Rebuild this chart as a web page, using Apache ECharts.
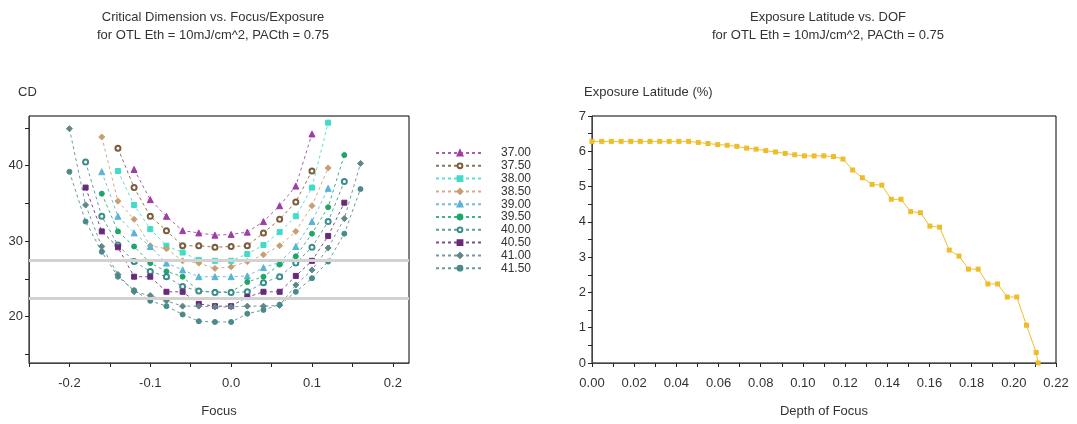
<!DOCTYPE html>
<html>
<head>
<meta charset="utf-8">
<script src="https://cdn.jsdelivr.net/npm/echarts@6/dist/echarts.min.js"></script>
<style>
  html, body { margin: 0; padding: 0; background: #fff; }
  #chart { width: 1077px; height: 424px; }
</style>
</head>
<body>
<div id="chart"></div>
<script>
// Focus settings (µm) at which CD was simulated
const focus = [-0.20, -0.18, -0.16, -0.14, -0.12, -0.10, -0.08, -0.06, -0.04, -0.02,
               0.00, 0.02, 0.04, 0.06, 0.08, 0.10, 0.12, 0.14, 0.16];

// Exposure doses (mJ/cm^2), one Bossung curve each
const exposures = ['37.00', '37.50', '38.00', '38.50', '39.00', '39.50', '40.00', '40.50', '41.00', '41.50'];

// CD per focus setting; null where the feature is outside the printable range
const cd3700 = [null, null, null, null, 39.5, 35.5, 33.3, 31.4, 31.1, 30.8, 30.9, 31.2, 32.6, 34.7, 37.3, 44.2, null, null, null];
const cd3750 = [null, null, null, 42.3, 37.1, 33.3, 31.4, 29.4, 29.4, 29.2, 29.3, 29.4, 31.1, 32.9, 35.2, 39.3, null, null, null];
const cd3800 = [null, null, null, 39.3, 34.8, 31.6, 29.4, 28.5, 27.5, 27.4, 27.4, 28.3, 29.5, 31.2, 33.3, 37.1, 45.7, null, null];
const cd3850 = [null, null, 43.8, 35.3, 32.9, 29.4, 29.0, 27.4, 27.1, 26.4, 26.6, 27.3, 28.2, 29.4, 31.3, 34.7, 39.7, null, null];
const cd3900 = [null, null, 39.2, 33.3, 31.1, 29.3, 27.1, 26.2, 25.3, 25.3, 25.3, 25.4, 26.5, 27.2, 29.3, 32.6, 37.0, null, null];
const cd3950 = [null, null, 36.3, 31.3, 29.3, 27.1, 26.0, 25.3, 23.4, 23.3, 23.3, 24.6, 25.3, 26.9, 28.0, 31.0, 34.5, 41.4, null];
const cd4000 = [null, 40.5, 33.3, 29.5, 27.3, 26.0, 25.3, 24.0, 23.4, 23.2, 23.2, 23.3, 24.5, 25.3, 27.1, 29.2, 32.6, 37.9, null];
const cd4050 = [null, 37.1, 31.3, 29.2, 25.3, 25.3, 23.3, 23.3, 21.7, 21.4, 21.4, 22.6, 23.3, 23.3, 25.4, 27.4, 30.7, 35.1, null];
const cd4100 = [44.9, 34.8, 29.3, 25.6, 23.3, 22.8, 22.1, 21.4, 21.4, 21.3, 21.3, 21.4, 21.4, 21.5, 24.2, 26.2, 29.1, 33.0, 40.3];
const cd4150 = [39.2, 32.6, 28.6, 25.3, 23.5, 22.1, 21.4, 20.3, 19.4, 19.3, 19.3, 20.4, 20.9, 21.6, 23.3, 25.1, 27.3, 31.0, 36.9];
const cdByExposure = [cd3700, cd3750, cd3800, cd3850, cd3900, cd3950, cd4000, cd4050, cd4100, cd4150];

// CD specification limits (target 25 +/- 10%)
const specLimits = [27.5, 22.5];

// Exposure latitude vs depth of focus
const dof = [0.0000, 0.0046, 0.0092, 0.0138, 0.0184, 0.0229, 0.0275, 0.0321, 0.0366, 0.0412,
             0.0458, 0.0504, 0.0550, 0.0596, 0.0641, 0.0687, 0.0733, 0.0778, 0.0824, 0.0870,
             0.0916, 0.0961, 0.1007, 0.1053, 0.1099, 0.1145, 0.1190, 0.1236, 0.1282, 0.1328,
             0.1374, 0.1419, 0.1465, 0.1511, 0.1557, 0.1602, 0.1648, 0.1694, 0.1740, 0.1785,
             0.1831, 0.1877, 0.1923, 0.1969, 0.2014, 0.2060, 0.2106, 0.2115];
const expLatitude = [6.28, 6.28, 6.28, 6.28, 6.28, 6.28, 6.28, 6.28, 6.28, 6.28,
                     6.28, 6.25, 6.22, 6.19, 6.17, 6.14, 6.09, 6.06, 6.02, 5.98,
                     5.94, 5.90, 5.87, 5.87, 5.87, 5.85, 5.78, 5.47, 5.25, 5.06,
                     5.04, 4.64, 4.64, 4.29, 4.26, 3.88, 3.85, 3.20, 3.03, 2.66,
                     2.66, 2.24, 2.24, 1.87, 1.87, 1.07, 0.30, 0.00];

// Axis ticks and labels
const focusTicks = [-0.25, -0.2, -0.15, -0.1, -0.05, 0, 0.05, 0.1, 0.15, 0.2];
const focusLabels = [-0.2, -0.1, 0, 0.1, 0.2];
const cdTicks = [15, 20, 25, 30, 35, 40, 45];
const cdLabels = [20, 30, 40];
const dofTicks = [0, 0.01, 0.02, 0.03, 0.04, 0.05, 0.06, 0.07, 0.08, 0.09, 0.10, 0.11,
                  0.12, 0.13, 0.14, 0.15, 0.16, 0.17, 0.18, 0.19, 0.20, 0.21, 0.22];
const dofLabels = [0, 0.02, 0.04, 0.06, 0.08, 0.10, 0.12, 0.14, 0.16, 0.18, 0.20, 0.22];
const elTicks = [0, 0.5, 1, 1.5, 2, 2.5, 3, 3.5, 4, 4.5, 5, 5.5, 6, 6.5, 7];
const elLabels = [0, 1, 2, 3, 4, 5, 6, 7];

// Marker style of each exposure curve
const curveStyles = [
  { color: '#a03ca6', symbol: 'triangle', size: 6 },
  { color: '#7c5c3c', symbol: 'emptyCircle', size: 5 },
  { color: '#3fdcc8', symbol: 'rect', size: 5 },
  { color: '#c4a072', symbol: 'diamond', size: 6 },
  { color: '#5ab4d6', symbol: 'triangle', size: 6 },
  { color: '#1ea66a', symbol: 'circle', size: 5 },
  { color: '#3d8d8d', symbol: 'emptyCircle', size: 5 },
  { color: '#6a2a7a', symbol: 'rect', size: 5 },
  { color: '#5f8787', symbol: 'diamond', size: 6 },
  { color: '#4a8a8a', symbol: 'circle', size: 5 }
];

const FONT = "'Liberation Sans', Arial, sans-serif";
const TXT = '#333';

const chart = echarts.init(document.getElementById('chart'), null, { renderer: 'canvas' });

const curveSeries = exposures.map((name, k) => {
  const st = curveStyles[k];
  const pts = [];
  cdByExposure[k].forEach((v, i) => { if (v !== null) pts.push([focus[i], v]); });
  return {
    name: name,
    type: 'line',
    xAxisIndex: 0,
    yAxisIndex: 0,
    data: pts,
    symbol: st.symbol,
    symbolSize: st.size,
    showAllSymbol: true,
    color: st.color,
    itemStyle: { color: st.color, borderColor: st.color, borderWidth: 1 },
    lineStyle: { color: st.color, width: 1, type: [3, 3], opacity: 0.85 },
    emphasis: { disabled: true },
    z: 3
  };
});

const specSeries = {
  name: 'spec',
  type: 'line',
  xAxisIndex: 0,
  yAxisIndex: 0,
  data: [],
  silent: true,
  z: 2,
  markLine: {
    silent: true,
    symbol: 'none',
    label: { show: false },
    lineStyle: { color: '#d2d2d2', width: 3, type: 'solid' },
    emphasis: { disabled: true },
    data: specLimits.map(v => ({ yAxis: v }))
  }
};

const latitudeSeries = {
  name: 'Exposure Latitude',
  type: 'line',
  xAxisIndex: 1,
  yAxisIndex: 1,
  data: dof.map((d, i) => [d, expLatitude[i]]),
  symbol: 'rect',
  symbolSize: 5,
  showAllSymbol: true,
  itemStyle: { color: '#efbd2c' },
  lineStyle: { color: '#efbd2c', width: 1 },
  emphasis: { disabled: true }
};

function axisCommon() {
  return {
    axisLine: { show: true, onZero: false, lineStyle: { color: '#444', width: 1 } },
    axisTick: { show: true, inside: false, length: 4, lineStyle: { color: '#222' } },
    splitLine: { show: false },
    axisLabel: { color: TXT, fontFamily: FONT, fontSize: 13 },
    nameTextStyle: { color: TXT, fontFamily: FONT, fontSize: 13 }
  };
}

function mergeAxis(base, extra) {
  const out = Object.assign({}, base, extra);
  out.axisTick = Object.assign({}, base.axisTick, extra.axisTick || {});
  out.axisLabel = Object.assign({}, base.axisLabel, extra.axisLabel || {});
  return out;
}

const option = {
  animation: false,
  backgroundColor: '#fff',
  textStyle: { fontFamily: FONT },
  title: [
    {
      text: 'Critical Dimension vs. Focus/Exposure',
      subtext: 'for OTL Eth = 10mJ/cm^2, PACth = 0.75',
      left: 208, top: 6, textAlign: 'center', itemGap: 5,
      textStyle: { fontFamily: FONT, fontSize: 13, fontWeight: 'normal', color: TXT },
      subtextStyle: { fontFamily: FONT, fontSize: 13, color: TXT }
    },
    {
      text: 'Exposure Latitude vs. DOF',
      subtext: 'for OTL Eth = 10mJ/cm^2, PACth = 0.75',
      left: 823, top: 6, textAlign: 'center', itemGap: 5,
      textStyle: { fontFamily: FONT, fontSize: 13, fontWeight: 'normal', color: TXT },
      subtextStyle: { fontFamily: FONT, fontSize: 13, color: TXT }
    },
    {
      text: 'CD', left: 13, top: 81,
      textStyle: { fontFamily: FONT, fontSize: 13, fontWeight: 'normal', color: TXT }
    },
    {
      text: 'Exposure Latitude (%)', left: 579, top: 81,
      textStyle: { fontFamily: FONT, fontSize: 13, fontWeight: 'normal', color: TXT }
    }
  ],
  legend: {
    orient: 'vertical',
    left: 430,
    top: 142,
    padding: 5,
    itemWidth: 48,
    itemHeight: 6,
    itemGap: 0.8,
    selectedMode: false,
    data: exposures,
    textStyle: { fontFamily: FONT, fontSize: 12, lineHeight: 12, color: TXT, padding: [0, 0, 0, 12] }
  },
  grid: [
    { left: 29, top: 116, width: 380, height: 247, show: true, borderColor: '#000', borderWidth: 1, backgroundColor: 'transparent' },
    { left: 592, top: 116, width: 464, height: 247, show: true, borderColor: '#000', borderWidth: 1, backgroundColor: 'transparent' }
  ],
  xAxis: [
    mergeAxis(axisCommon(), {
      type: 'value', gridIndex: 0, min: -0.25, max: 0.22,
      name: 'Focus', nameLocation: 'middle', nameGap: 42,
      axisTick: { customValues: focusTicks },
      axisLabel: { customValues: focusLabels, margin: 14, formatter: v => v.toFixed(1) }
    }),
    mergeAxis(axisCommon(), {
      type: 'value', gridIndex: 1, min: 0, max: 0.22,
      name: 'Depth of Focus', nameLocation: 'middle', nameGap: 42,
      axisTick: { customValues: dofTicks },
      axisLabel: { customValues: dofLabels, margin: 14, formatter: v => v.toFixed(2) }
    })
  ],
  yAxis: [
    mergeAxis(axisCommon(), {
      type: 'value', gridIndex: 0, min: 13.87, max: 46.58,
      axisTick: { customValues: cdTicks },
      axisLabel: { customValues: cdLabels, margin: 6 }
    }),
    mergeAxis(axisCommon(), {
      type: 'value', gridIndex: 1, min: 0, max: 7,
      axisTick: { customValues: elTicks },
      axisLabel: { customValues: elLabels, margin: 6 }
    })
  ],
  series: [specSeries].concat(curveSeries).concat([latitudeSeries])
};

chart.setOption(option);
</script>
</body>
</html>
